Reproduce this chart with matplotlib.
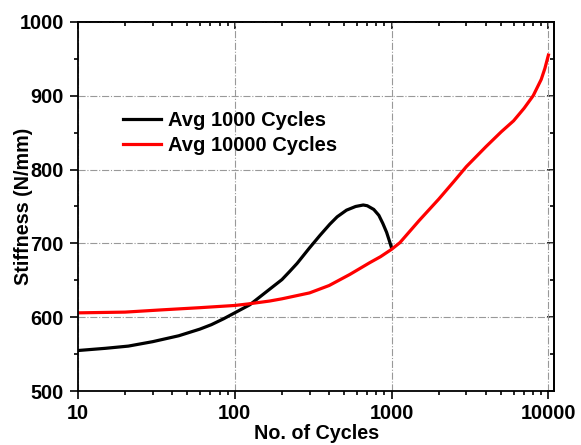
import numpy as np
import matplotlib.pyplot as plt
from matplotlib.ticker import MultipleLocator, LogLocator, FixedLocator

# ---------------------------------------------------------------
# Data
# ---------------------------------------------------------------
cycles_1000 = [10, 15, 21, 30, 44, 60, 71, 85, 100, 125, 167, 200, 224, 250, 300, 350,
               404, 450, 516, 590, 660, 700, 770, 830, 880, 930, 970, 1000]
stiff_1000 = [555, 558, 561, 567, 575, 584, 590, 598, 606, 617, 638, 651, 662, 673, 694, 711,
              726, 736, 745, 750, 752, 751, 746, 738, 727, 715, 703, 694]

cycles_10000 = [10, 20, 34, 60, 100, 121, 167, 200, 300, 400, 542, 727, 850, 1000, 1130,
                1500, 2000, 2500, 3000, 4000, 5000, 6000, 7000, 8000, 9000, 9500, 10000]
stiff_10000 = [606, 607, 610, 613, 616, 618, 622, 625, 633, 643, 658, 674, 682, 692, 701,
               731, 760, 784, 804, 831, 851, 866, 883, 900, 922, 937, 955]

labels = ["Avg 1000 Cycles", "Avg 10000 Cycles"]

# ---------------------------------------------------------------
# Plot
# ---------------------------------------------------------------
plt.rcParams['font.family'] = ['Liberation Sans', 'DejaVu Sans']
plt.rcParams['font.weight'] = 'bold'

fig = plt.figure(figsize=(5.81, 4.45), dpi=100)
ax = fig.add_axes([0.134, 0.121, 0.820, 0.830])

ax.plot(cycles_1000, stiff_1000, color="black", lw=2.3, label=labels[0])
ax.plot(cycles_10000, stiff_10000, color="red", lw=2.3, label=labels[1])

ax.set_xscale("log")
ax.set_xlim(10, 10900)
ax.set_ylim(500, 1000)

ax.xaxis.set_major_locator(FixedLocator([10, 100, 1000, 10000]))
ax.xaxis.set_major_formatter(plt.FuncFormatter(lambda v, p: f"{int(v)}"))
ax.xaxis.set_minor_locator(LogLocator(base=10, subs=np.arange(2, 10)))
ax.yaxis.set_major_locator(MultipleLocator(100))
ax.yaxis.set_minor_locator(MultipleLocator(50))

# outward ticks bottom/left, inward ticks top/right
ax.tick_params(which="both", direction="out", labelsize=14.3, width=1.2, pad=3)
ax.tick_params(axis="y", pad=4)
ax.tick_params(which="major", length=6)
ax.tick_params(which="minor", length=3)
ax2 = ax.secondary_xaxis("top")
ax2.set_xticks([10, 100, 1000, 10000])
ax2.xaxis.set_minor_locator(LogLocator(base=10, subs=np.arange(2, 10)))
ax2.tick_params(which="both", direction="in", labeltop=False, width=1.2)
ax2.tick_params(which="major", length=5)
ax2.tick_params(which="minor", length=3)
ay2 = ax.secondary_yaxis("right")
ay2.set_yticks([500, 600, 700, 800, 900, 1000])
ay2.yaxis.set_minor_locator(MultipleLocator(50))
ay2.tick_params(which="both", direction="in", labelright=False, width=1.2)
ay2.tick_params(which="major", length=5)
ay2.tick_params(which="minor", length=3)
for lbl in ax.get_xticklabels() + ax.get_yticklabels():
    lbl.set_fontweight("bold")

for s in ax.spines.values():
    s.set_linewidth(1.3)
ax2.spines["top"].set_linewidth(1.3)
ay2.spines["right"].set_linewidth(1.3)

ax.grid(True, which="major", color="#999999", ls="-.", lw=0.8)

ax.set_xlabel("No. of Cycles", fontsize=14.2, fontweight="bold", labelpad=1)
ax.set_ylabel("Stiffness (N/mm)", fontsize=14.2, fontweight="bold")
ax.yaxis.set_label_coords(-0.095, 0.5)

ax.legend(loc="center left", bbox_to_anchor=(0.094, 0.70), frameon=False,
          prop={'weight': 'bold', 'size': 14.5}, handlelength=1.9,
          handletextpad=0.35, labelspacing=0.3, borderpad=0, borderaxespad=0)

fig.savefig("out.png", dpi=100)
